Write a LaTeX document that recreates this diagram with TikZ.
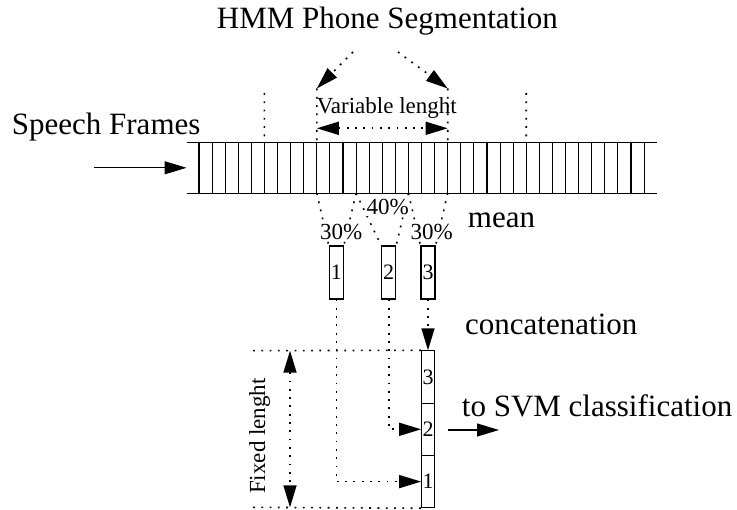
\documentclass[tikz,border=0pt]{standalone}
\usepackage{fontspec}
\setmainfont{Liberation Serif}
\usetikzlibrary{arrows.meta}
\begin{document}
\begin{tikzpicture}[x=1pt,y=-1pt,
  >={Triangle[length=22pt,width=13pt]},
  thinline/.style={line width=1.1pt},
  dotl/.style={line width=1.6pt, dash pattern=on 1.8pt off 6.5pt},
  big/.style={font=\fontsize{31}{36}\selectfont, inner sep=0pt},
  small/.style={font=\fontsize{23}{27}\selectfont, inner sep=0pt},
  pct/.style={small, fill=white, inner sep=0.5pt},
  cell/.style={draw, line width=1.1pt, minimum width=14pt, minimum height=53pt, inner sep=0pt, font=\fontsize{22}{26}\selectfont},
  ccell/.style={cell, minimum width=12.6pt, minimum height=52.3pt},
]
\useasboundingbox (0,0) rectangle (737,510);

% band of speech frames
\coordinate (bandtl) at (186.7,142.3);
\coordinate (bandtr) at (656.7,142.3);
\coordinate (bandbl) at (186.7,193.3);
\coordinate (bandbr) at (656.7,193.3);
\draw[thinline] (bandtl) -- (bandtr) (bandbl) -- (bandbr);
\foreach \k in {0,...,34}{
  \coordinate (t\k) at ({199+13.09*\k},142.3);
  \coordinate (b\k) at ({199+13.09*\k},193.3);
  \draw[thinline] (t\k) -- (b\k);
}

% title and arrows to segment limits
\node[big, anchor=base west] (title) at (216.7,29) {HMM Phone Segmentation};
\coordinate (tl) at (353,52);
\coordinate (tr) at (398,52);
\coordinate (vl) at (316.8,88.5);
\coordinate (vr) at (447.7,88.5);
\draw[dotl,->] (tl) -- (vl);
\draw[dotl,->] (tr) -- (vr);
\draw[dotl] (vl) -- (t9);
\draw[dotl] (vr) -- (t19);
\coordinate (o5) at (264.4,93);
\coordinate (o25) at (526.2,93);
\draw[dotl] (o5) -- (t5);
\draw[dotl] (o25) -- (t25);

% variable length
\node[small, anchor=base west] (varlen) at (316.7,113.3) {Variable lenght};
\coordinate (va1) at (316.8,128.3);
\coordinate (va2) at (447.7,128.3);
\draw[dotl,<->] (va1) -- (va2);

% speech frames input
\node[big, anchor=base west] (speech) at (11.7,135) {Speech Frames};
\coordinate (sa) at (94.3,167.8);
\coordinate (sb) at (186.5,167.8);
\draw[thinline,->] (sa) -- (sb);

% mean boxes
\node[cell] (m1) at (336.3,272.5) {1};
\node[cell] (m2) at (388.7,272.5) {2};
\node[cell] (m3) at (428,272.5) {3};
\draw[dotl] (b9) -- (m1.north west);
\draw[dotl] (b12) -- (m1.north east);
\draw[dotl] (b12) -- (m2.north west);
\draw[dotl] (b16) -- (m2.north east);
\draw[dotl] (b16) -- (m3.north west);
\draw[dotl] (b19) -- (m3.north east);
\node[pct, anchor=base west] (p40) at (366,215) {40\%};
\node[pct, anchor=base west] (p30a) at (319.3,240) {30\%};
\node[pct, anchor=base west] (p30b) at (410,240) {30\%};
\node[big, anchor=base west] (mean) at (467.7,227.3) {mean};

% concatenation
\node[ccell] (c3) at (428,377) {3};
\node[ccell] (c2) at (428,429.3) {2};
\node[ccell] (c1) at (428,481.6) {1};
\node[big, anchor=base west] (concat) at (465,335) {concatenation};
\draw[dotl,->] (m3.south) -- (c3.north);
\draw[dotl,->] (m2.south) |- (c2.west);
\draw[dotl,->] (m1.south) |- (c1.west);

% fixed length
\coordinate (fl1) at (253,350.7);
\coordinate (fl2) at (253,507.3);
\draw[dotl] (fl1) -- (c3.north west);
\draw[dotl] (fl2) -- (c1.south west);
\coordinate (fa1) at (290,350.7);
\coordinate (fa2) at (290,507.3);
\draw[dotl,<->] (fa1) -- (fa2);
\node[small, rotate=90, anchor=base] (fixed) at (265,436) {Fixed lenght};

% output
\node[big, anchor=base west] (svm) at (461.7,416.7) {to SVM classification};
\coordinate (sv1) at (448.3,430);
\coordinate (sv2) at (499,430);
\draw[thinline,->] (sv1) -- (sv2);
\end{tikzpicture}
\end{document}
